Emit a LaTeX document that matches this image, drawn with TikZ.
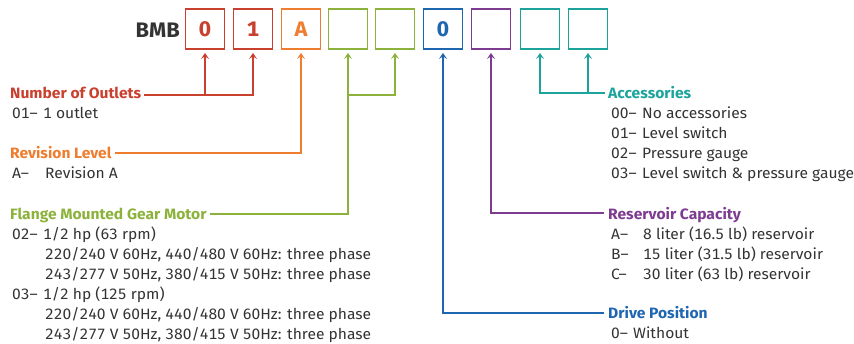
\documentclass[tikz,border=0pt]{standalone}
\usepackage{fontspec}
\setmainfont[FakeStretch=1.04,Numbers=Monospaced]{Fira Sans}
\usetikzlibrary{arrows.meta,calc}
\definecolor{cred}{HTML}{C9402F}
\definecolor{corange}{HTML}{EE7D2F}
\definecolor{cgreen}{HTML}{8CB23C}
\definecolor{cblue}{HTML}{1F66B1}
\definecolor{cpurple}{HTML}{7E3C91}
\definecolor{cteal}{HTML}{1BA39C}
\definecolor{ctext}{HTML}{333333}
\tikzset{
  codebox/.style={draw,line width=1.8pt,minimum width=39pt,minimum height=40pt,inner sep=0pt,font=\fontsize{21}{21}\selectfont\bfseries},
  head/.style={anchor=base west,inner sep=0pt,font=\fontsize{15}{16}\selectfont\bfseries},
  item/.style={anchor=base west,inner sep=0pt,text=ctext,font=\fontsize{15}{16}\selectfont},
  conn/.style={line width=1.4pt},
  arr/.style={conn,-{Stealth[length=6pt,width=8pt,inset=2.5pt]}},
}
\newcommand{\lab}[2]{\makebox[#1][l]{#2}}
\begin{document}
\begin{tikzpicture}[x=1pt,y=-1pt]
\useasboundingbox (0,0) rectangle (854,343);
% code line
\node[anchor=base east,inner sep=0pt,text=ctext,font=\fontsize{21}{21}\selectfont\bfseries] (bmb) at (180,37) {BMB};
\node[codebox,cred,text=cred] (b1) at (205,29) {0};
\node[codebox,cred,text=cred] (b2) at (253,29) {1};
\node[codebox,corange,text=corange] (b3) at (301,29) {A};
\node[codebox,cgreen] (b4) at (348,29) {};
\node[codebox,cgreen] (b5) at (395,29) {};
\node[codebox,cblue,text=cblue] (b6) at (443,29) {0};
\node[codebox,cpurple] (b7) at (491,29) {};
\node[codebox,cteal] (b8) at (540,29) {};
\node[codebox,cteal] (b9) at (588,29) {};
% left headings
\node[head,text=cred] (hout) at (10,98) {Number of Outlets};
\node[item] (iout) at (12,118) {\lab{31pt}{01–}1 outlet};
\node[head,text=corange] (hrev) at (10,158) {Revision Level};
\node[item] (irev) at (12,178) {\lab{33pt}{A–}Revision A};
\node[head,text=cgreen] (hmot) at (10,219) {Flange Mounted Gear Motor};
\node[item] (im1) at (12,239) {\lab{31pt}{02–}1/2 hp (63 rpm)};
\node[item] (im2) at (45,259) {220/240 V 60Hz, 440/480 V 60Hz: three phase};
\node[item] (im3) at (45,279) {243/277 V 50Hz, 380/415 V 50Hz: three phase};
\node[item] (im4) at (12,299) {\lab{31pt}{03–}1/2 hp (125 rpm)};
\node[item] (im5) at (45,319) {220/240 V 60Hz, 440/480 V 60Hz: three phase};
\node[item] (im6) at (45,339) {243/277 V 50Hz, 380/415 V 50Hz: three phase};
% right headings
\node[head,text=cteal] (hacc) at (608,98) {Accessories};
\node[item] (ia1) at (611,118) {\lab{31pt}{00–}No accessories};
\node[item] (ia2) at (611,138) {\lab{31pt}{01–}Level switch};
\node[item] (ia3) at (611,158) {\lab{31pt}{02–}Pressure gauge};
\node[item] (ia4) at (611,178) {\lab{31pt}{03–}Level switch \& pressure gauge};
\node[head,text=cpurple] (hres) at (608,219) {Reservoir Capacity};
\node[item] (ir1) at (611,239) {\lab{32pt}{A–}8 liter (16.5 lb) reservoir};
\node[item] (ir2) at (611,259) {\lab{32pt}{B–}15 liter (31.5 lb) reservoir};
\node[item] (ir3) at (611,279) {\lab{32pt}{C–}30 liter (63 lb) reservoir};
\node[head,text=cblue] (hdrv) at (608,318) {Drive Position};
\node[item] (id1) at (611,338) {\lab{22pt}{0–}Without};
% connectors
\coordinate (jout) at (205,95);
\draw[conn,cred] ([shift={(3pt,3pt)}]hout.base east) -- (jout);
\draw[arr,cred] ([shift={(3pt,3pt)}]hout.base east) -| ([yshift=-3pt]b2.south);
\draw[arr,cred] (jout) -- ([yshift=-3pt]b1.south);
\draw[arr,corange] ([shift={(3pt,5pt)}]hrev.base east) -| ([yshift=-3pt]b3.south);
\coordinate (jmot) at (348,95);
\draw[arr,cgreen] ([shift={(3pt,5pt)}]hmot.base east) -| ([yshift=-3pt]b4.south);
\draw[arr,cgreen] (jmot) -| ([yshift=-3pt]b5.south);
\draw[arr,cblue] ([shift={(-4pt,5pt)}]hdrv.base west) -| ([yshift=-3pt]b6.south);
\draw[arr,cpurple] ([shift={(-4pt,6pt)}]hres.base west) -| ([yshift=-3pt]b7.south);
\coordinate (jacc) at (588,93);
\draw[arr,cteal] ([shift={(-3pt,5pt)}]hacc.base west) -| ([yshift=-3pt]b8.south);
\draw[arr,cteal] (jacc) -- ([yshift=-3pt]b9.south);
\end{tikzpicture}
\end{document}
